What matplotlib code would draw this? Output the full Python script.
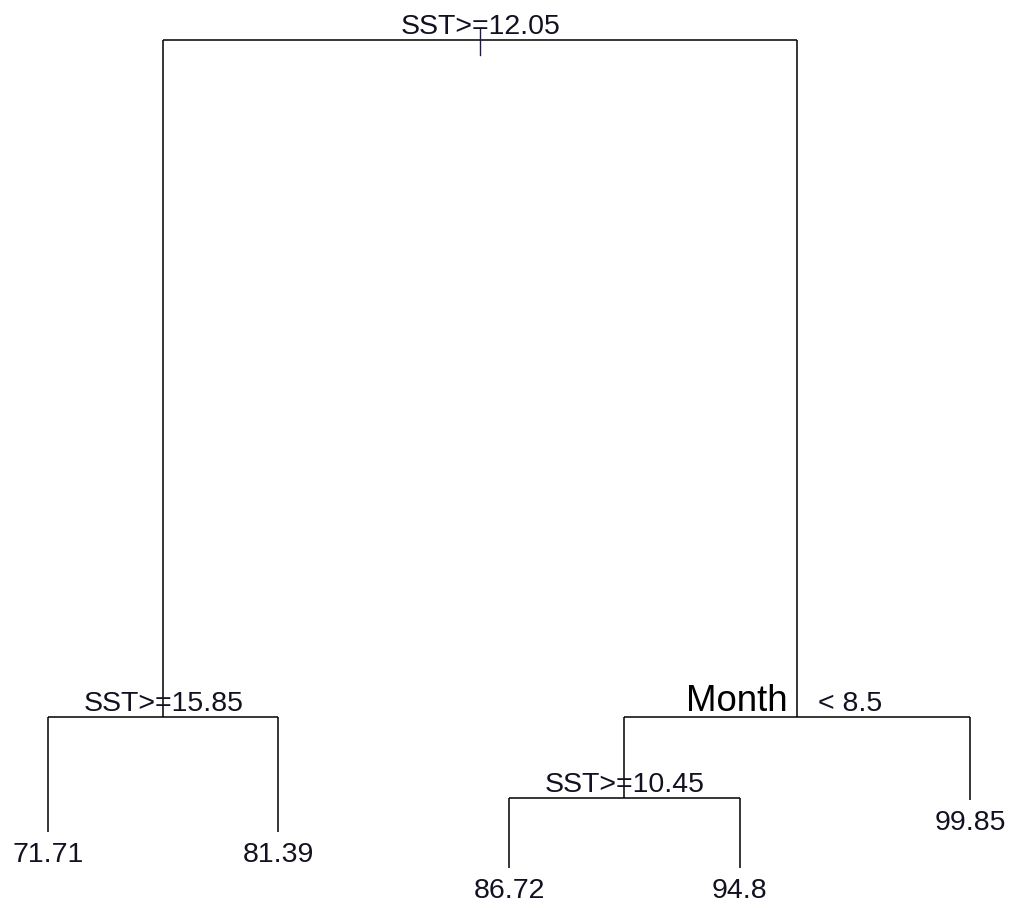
# rpart-style regression tree drawn with matplotlib
import matplotlib
matplotlib.use("Agg")
import matplotlib.pyplot as plt

plt.rcParams['font.family'] = ['Liberation Sans', 'DejaVu Sans']

# tree structure: node id -> (left child, right child)
children = {1: (2, 3), 2: (4, 5), 3: (6, 7), 6: (12, 13)}
split_labels = {1: "SST>=12.05", 2: "SST>=15.85", 6: "SST>=10.45"}
month_left, month_right = "Month", "< 8.5"
leaf_order = [4, 5, 12, 13, 7]
leaf_values = ["71.71", "81.39", "86.72", "94.8", "99.85"]
# node heights (scaled deviance)
node_height = {1: 1.0, 2: 0.182, 3: 0.182, 6: 0.0845,
               4: 0.0435, 5: 0.0435, 12: 0.0, 13: 0.0, 7: 0.082}

# x positions: leaves 1..n, parents at midpoint of children
xpos = {n: i + 1 for i, n in enumerate(leaf_order)}
def place(n):
    if n in xpos:
        return xpos[n]
    l, r = children[n]
    xpos[n] = (place(l) + place(r)) / 2
    return xpos[n]
place(1)

fig = plt.figure(figsize=(10.12, 9.02), dpi=100)
ax = fig.add_axes([0, 0, 1, 1])
ax.set_xlim(0.792, 5.182)
ax.set_ylim(-0.0411, 1.0483)
ax.axis('off')

lw = 1.1
for n, (l, r) in children.items():
    y = node_height[n]
    ax.plot([xpos[l], xpos[r]], [y, y], color='black', lw=lw, solid_capstyle='butt')
    for c in (l, r):
        ax.plot([xpos[c], xpos[c]], [y, node_height[c]], color='black', lw=lw,
                solid_capstyle='butt')

fs = 20.5
for n, lab in split_labels.items():
    ax.annotate(lab, (xpos[n], node_height[n]), xytext=(0, 4.5),
                textcoords='offset points', ha='center', va='baseline',
                fontsize=fs, color='#111122')

# small tick marking the root
ax.plot([xpos[1], xpos[1]], [node_height[1] + 0.0145, node_height[1] - 0.0181],
        color='#1a1a55', lw=1.0)

# Month split label
ax.annotate(month_left, (xpos[3], node_height[3]), xytext=(-6.5, 4.5),
            textcoords='offset points', ha='right', va='baseline',
            fontsize=26.4, color='black')
ax.annotate(month_right, (xpos[3], node_height[3]), xytext=(15, 4.5),
            textcoords='offset points', ha='left', va='baseline',
            fontsize=fs, color='#111122')

for n, v in zip(leaf_order, leaf_values):
    ax.annotate(v, (xpos[n], node_height[n]), xytext=(0, -21.5),
                textcoords='offset points', ha='center', va='baseline',
                fontsize=fs, color='#111122')

fig.savefig('out.png', dpi=100, facecolor='white')
